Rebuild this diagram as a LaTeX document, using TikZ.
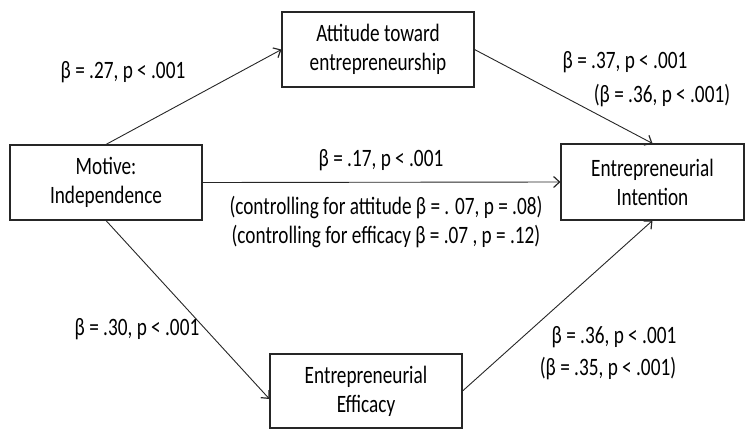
\documentclass[tikz,border=0pt]{standalone}
\usepackage{fontspec}
\setmainfont[FakeStretch=0.77]{Carlito}
\usetikzlibrary{arrows.meta}
\tikzset{
  box/.style={draw=black!85, line width=1.1pt, minimum width=192pt, minimum height=75pt, inner sep=0pt, align=center, font=\fontsize{25}{29}\selectfont},
  lbl/.style={inner sep=0pt, align=center, font=\fontsize{25}{33}\selectfont},
  conn/.style={draw=black!85, line width=0.9pt, -{Straight Barb[length=6pt,width=11pt,line width=1.2pt]}}
}
\begin{document}
\begin{tikzpicture}[x=1pt,y=-1pt]
\useasboundingbox (0,0) rectangle (745,429);
\node[box] (a) at (378,49.5) {Attitude toward\\entrepreneurship};
\node[box] (m) at (106,182.5) {Motive:\\Independence};
\node[box, minimum width=183pt, minimum height=76pt] (i) at (652.5,182) {Entrepreneurial\\Intention};
\node[box, minimum height=74pt] (e) at (366,391) {Entrepreneurial\\Efficacy};

\draw[conn] (m.north) -- (a.west);
\draw[conn] (a.east) -- (i.north);
\draw[conn] (m.east) -- (i.west);
\draw[conn] (m.south) -- ([yshift=-8pt]e.west);
\draw[conn] (e.east) -- (i.south);

\node[lbl] (l1) at (123,72) {β = .27, p < .001};
\node[lbl] (l2) at (625,62) {β = .37, p < .001};
\node[lbl] (l3) at (662,96) {(β = .36, p < .001)};
\node[lbl] (l4) at (381,160) {β = .17, p < .001};
\node[lbl] (l5) at (386,208) {(controlling for attitude β = . 07, p = .08)};
\node[lbl] (l6) at (386,237) {(controlling for efficacy β = .07 , p = .12)};
\node[lbl] (l7) at (137,329) {β = .30, p < .001};
\node[lbl] (l8) at (614,337) {β = .36, p < .001};
\node[lbl] (l9) at (608,369) {(β = .35, p < .001)};
\end{tikzpicture}
\end{document}
